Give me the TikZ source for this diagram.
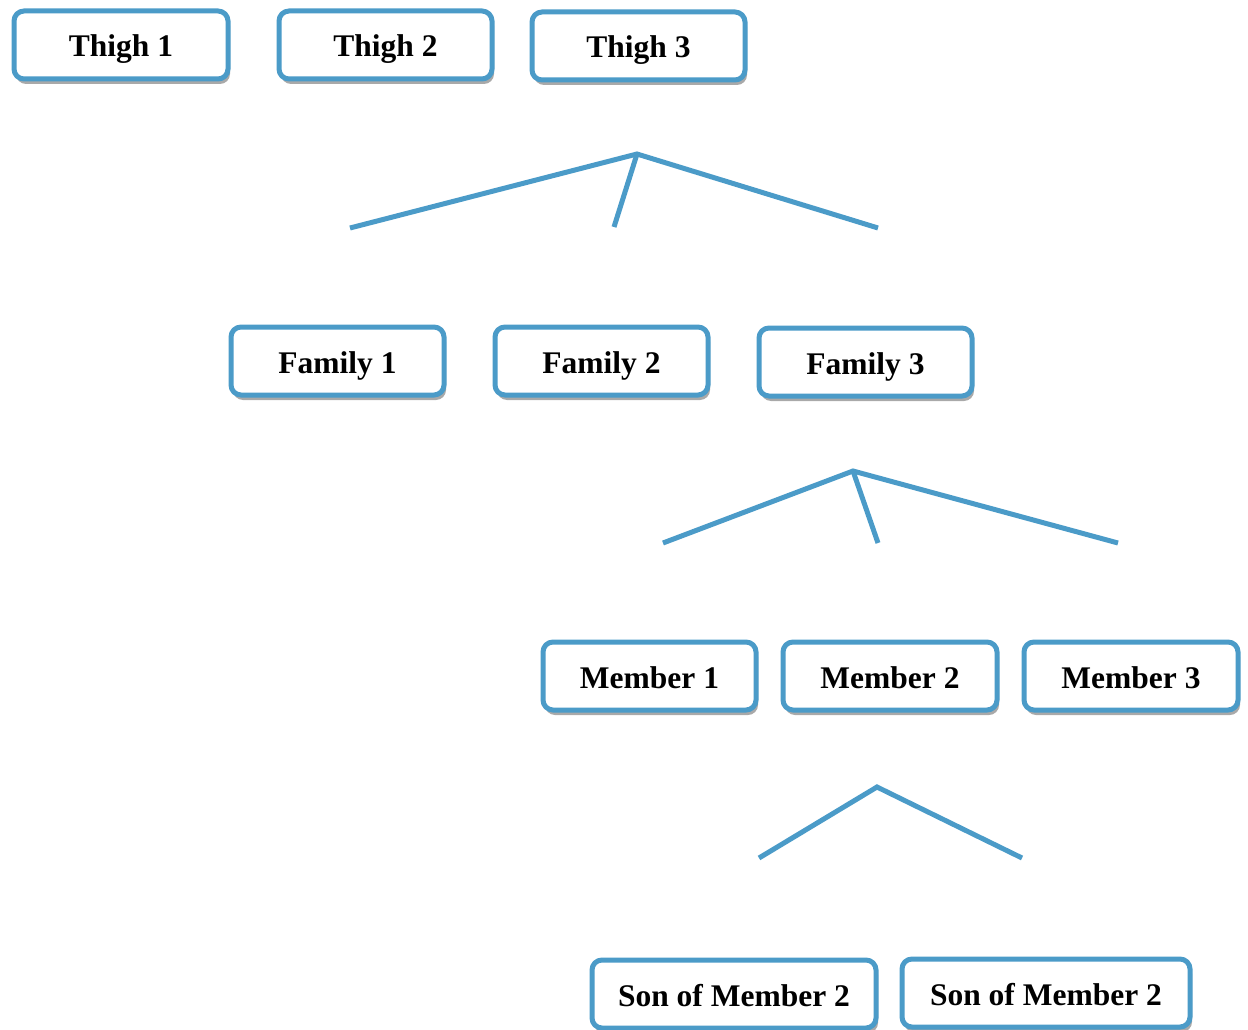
\documentclass[tikz,border=0pt]{standalone}
\usepackage{fontspec}
\setmainfont{Liberation Serif}
\usetikzlibrary{shadows}
\definecolor{lineblue}{RGB}{75,155,200}
\tikzset{
  box/.style={draw=lineblue, line width=5pt, rounded corners=10pt, fill=white,
    inner sep=0pt, text height=24pt, text depth=0pt, font=\fontsize{31.5}{34}\selectfont\bfseries,
    drop shadow={shadow xshift=2pt, shadow yshift=-5pt, opacity=0.45, fill=black!75}},
  branch/.style={draw=lineblue, line width=5pt}
}
\begin{document}
\begin{tikzpicture}[x=1pt,y=-1pt]
\useasboundingbox (0,0) rectangle (1248,1030);
\newcommand{\mybox}[6]{\node[box, minimum width=#4pt, minimum height=#5pt] (#1) at (#2,#3) {#6};}
\mybox{t1}{121}{45}{214}{68}{Thigh 1}
\mybox{t2}{385.5}{45}{213}{68}{Thigh 2}
\mybox{t3}{638.5}{46}{213}{68}{Thigh 3}
\mybox{f1}{337.5}{361}{213}{68}{Family 1}
\mybox{f2}{601.5}{361}{213}{68}{Family 2}
\mybox{f3}{865.5}{362}{213}{68}{Family 3}
\mybox{m1}{649.5}{676}{213}{68}{Member 1}
\mybox{m2}{890}{676}{214}{68}{Member 2}
\mybox{m3}{1131}{676}{214}{68}{Member 3}
\mybox{s1}{734}{994}{284}{68}{Son of Member 2}
\mybox{s2}{1046}{993}{288}{68}{Son of Member 2}
\coordinate (a1) at (637,154);
\coordinate (a1l) at (350,228);
\coordinate (a1m) at (614,227);
\coordinate (a1r) at (878,228);
\coordinate (a2) at (853,471);
\coordinate (a2l) at (663,543);
\coordinate (a2m) at (878,543);
\coordinate (a2r) at (1118,543);
\coordinate (a3) at (877,787);
\coordinate (a3l) at (759,858);
\coordinate (a3r) at (1022,858);
\draw[branch] (a1l) -- (a1) -- (a1r);
\draw[branch] (a1) -- (a1m);
\draw[branch] (a2l) -- (a2) -- (a2r);
\draw[branch] (a2) -- (a2m);
\draw[branch] (a3l) -- (a3) -- (a3r);
\end{tikzpicture}
\end{document}
